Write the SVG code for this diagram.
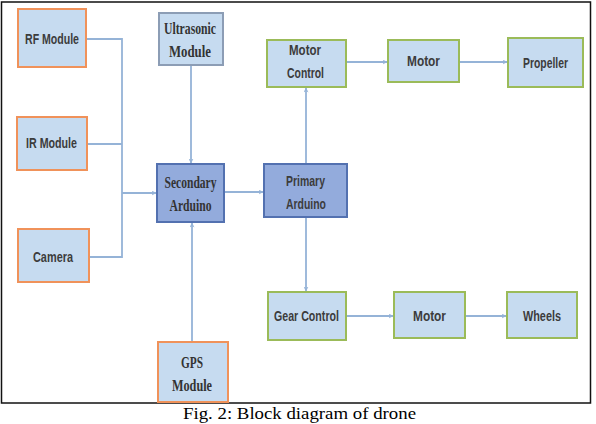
<svg xmlns="http://www.w3.org/2000/svg" width="596" height="424" viewBox="0 0 596 424">
<defs>
<style>
.lb{fill:#c6dbf0;stroke-width:2}
.or{stroke:#f0925a}
.gr{stroke:#9bbb59}
.gb{stroke:#8c9db5}
.dk{fill:#93abdc;stroke:#5371b0;stroke-width:2}
.s{font-family:"Liberation Sans",Arial,sans-serif;font-weight:bold;font-size:14px;fill:#3c3c3c;text-anchor:middle}
.t{font-family:"Liberation Serif","Times New Roman",serif;font-weight:bold;font-size:16px;fill:#333;text-anchor:middle}
.cap{font-family:"Liberation Serif","Times New Roman",serif;font-size:16px;fill:#000;text-anchor:middle}
.c{fill:none;stroke:#95b3d7;stroke-width:1.8}
</style>
<marker id="a" viewBox="0 0 10 10" refX="9" refY="5" markerWidth="5" markerHeight="5" orient="auto" markerUnits="userSpaceOnUse">
<path d="M0,0 L10,5 L0,10 L3,5 Z" fill="#95b3d7"/>
</marker>
</defs>
<rect x="0" y="0" width="596" height="424" fill="#ffffff"/>
<rect x="1.5" y="2" width="589" height="401" fill="#ffffff" stroke="#111" stroke-width="1.5"/>
<g id="connectors">
<path class="c" d="M86,39 H122 V257 H89"/>
<path class="c" d="M87,144 H122"/>
<path class="c" d="M122,193 H156" marker-end="url(#a)"/>
<path class="c" d="M191,65 V163" marker-end="url(#a)"/>
<path class="c" d="M192,342 V223" marker-end="url(#a)"/>
<path class="c" d="M224,192 H263" marker-end="url(#a)"/>
<path class="c" d="M306,164 V88" marker-end="url(#a)"/>
<path class="c" d="M306,217 V291" marker-end="url(#a)"/>
<path class="c" d="M346,62 H387" marker-end="url(#a)"/>
<path class="c" d="M459,62 H507" marker-end="url(#a)"/>
<path class="c" d="M346,316 H393" marker-end="url(#a)"/>
<path class="c" d="M465,316 H506" marker-end="url(#a)"/>
</g>
<g id="rf"><rect class="lb or" x="18" y="9" width="68" height="58"/><text class="s" x="52" y="44" textLength="54" lengthAdjust="spacingAndGlyphs">RF Module</text></g>
<g id="ir"><rect class="lb or" x="17" y="117" width="70" height="53"/><text class="s" x="51.5" y="148" textLength="51" lengthAdjust="spacingAndGlyphs">IR Module</text></g>
<g id="camera"><rect class="lb or" x="18" y="229" width="71" height="53"/><text class="s" x="53" y="262" textLength="40" lengthAdjust="spacingAndGlyphs">Camera</text></g>
<g id="ultrasonic"><rect class="lb gb" x="159" y="13" width="64" height="52"/><text class="t" x="190" y="34" textLength="52" lengthAdjust="spacingAndGlyphs">Ultrasonic</text><text class="t" x="190" y="57" textLength="42" lengthAdjust="spacingAndGlyphs">Module</text></g>
<g id="secondary"><rect class="dk" x="157" y="164" width="67" height="58"/><text class="t" x="190.5" y="188" textLength="52" lengthAdjust="spacingAndGlyphs">Secondary</text><text class="t" x="190.5" y="211" textLength="42" lengthAdjust="spacingAndGlyphs">Arduino</text></g>
<g id="gps"><rect class="lb or" x="158" y="342" width="70" height="60"/><text class="t" x="192" y="368" textLength="22" lengthAdjust="spacingAndGlyphs">GPS</text><text class="t" x="192" y="391" textLength="40" lengthAdjust="spacingAndGlyphs">Module</text></g>
<g id="primary"><rect class="dk" x="264" y="164" width="83" height="53"/><text class="s" x="305.5" y="186" textLength="39" lengthAdjust="spacingAndGlyphs">Primary</text><text class="s" x="306" y="209" textLength="40" lengthAdjust="spacingAndGlyphs">Arduino</text></g>
<g id="motorcontrol"><rect class="lb gr" x="267" y="40" width="79" height="47"/><text class="s" x="305" y="55" textLength="32" lengthAdjust="spacingAndGlyphs">Motor</text><text class="s" x="305.5" y="78" textLength="37" lengthAdjust="spacingAndGlyphs">Control</text></g>
<g id="motor1"><rect class="lb gr" x="388" y="40" width="71" height="42"/><text class="s" x="423.5" y="66" textLength="33" lengthAdjust="spacingAndGlyphs">Motor</text></g>
<g id="propeller"><rect class="lb gr" x="508" y="38" width="75" height="49"/><text class="s" x="545.5" y="68" textLength="45" lengthAdjust="spacingAndGlyphs">Propeller</text></g>
<g id="gearcontrol"><rect class="lb gr" x="268" y="292" width="78" height="48"/><text class="s" x="306.5" y="321" textLength="65" lengthAdjust="spacingAndGlyphs">Gear Control</text></g>
<g id="motor2"><rect class="lb gr" x="394" y="292" width="71" height="46"/><text class="s" x="429.5" y="321" textLength="33" lengthAdjust="spacingAndGlyphs">Motor</text></g>
<g id="wheels"><rect class="lb gr" x="507" y="292" width="70" height="46"/><text class="s" x="542" y="321" textLength="38" lengthAdjust="spacingAndGlyphs">Wheels</text></g>
<text class="cap" x="299.5" y="419" textLength="233" lengthAdjust="spacingAndGlyphs">Fig. 2: Block diagram of drone</text>
</svg>
